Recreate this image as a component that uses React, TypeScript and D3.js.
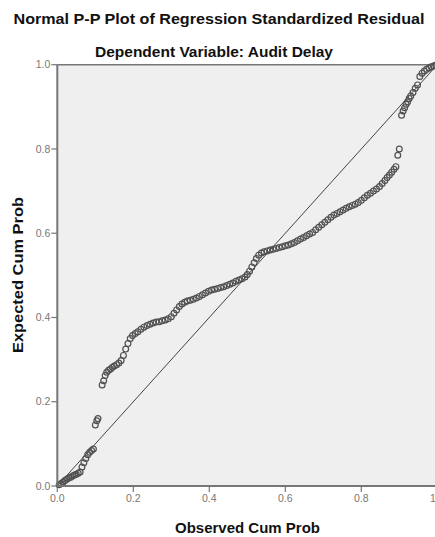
import React from "react";
import * as d3 from "d3";

const observed: number[] = [
  0.005, 0.01, 0.015, 0.02, 0.025, 0.03, 0.035, 0.04, 0.045, 0.05, 0.055, 0.06, 0.065, 0.07, 0.075, 0.08, 0.085, 0.09, 0.095,
  0.1, 0.104, 0.107,
  0.118, 0.122, 0.126, 0.13, 0.135, 0.14, 0.145, 0.15, 0.156, 0.162, 0.168, 0.174, 0.18, 0.186, 0.192, 0.198,
  0.205, 0.212, 0.22, 0.228, 0.236, 0.244, 0.252, 0.26, 0.268, 0.276, 0.284, 0.292, 0.3, 0.307, 0.314, 0.321,
  0.328, 0.335, 0.342, 0.35, 0.358, 0.366, 0.374, 0.382, 0.39, 0.398, 0.406, 0.414, 0.422, 0.43, 0.438, 0.446,
  0.454, 0.462, 0.47, 0.478, 0.486, 0.494, 0.5, 0.506, 0.512, 0.518, 0.524, 0.53, 0.537, 0.544, 0.552, 0.56,
  0.568, 0.576, 0.584, 0.592, 0.6, 0.608, 0.616, 0.624, 0.632, 0.64, 0.648, 0.656, 0.664, 0.672, 0.68, 0.688,
  0.696, 0.704, 0.712, 0.72, 0.728, 0.736, 0.744, 0.752, 0.76, 0.768, 0.776, 0.784, 0.792, 0.8, 0.808, 0.816,
  0.824, 0.832, 0.84, 0.848, 0.855, 0.862, 0.868, 0.874, 0.88, 0.886, 0.891,
  0.896, 0.9,
  0.906, 0.91, 0.914, 0.918, 0.922, 0.926, 0.93, 0.936, 0.942, 0.948,
  0.954, 0.96, 0.966, 0.972, 0.978, 0.984, 0.99, 0.996,
];

const expected: number[] = [
  0.003, 0.006, 0.009, 0.013, 0.016, 0.019, 0.021, 0.024, 0.026, 0.028, 0.03, 0.033, 0.045, 0.055, 0.065, 0.074, 0.08, 0.084, 0.088,
  0.145, 0.155, 0.16,
  0.24, 0.25, 0.262, 0.27, 0.275, 0.278, 0.282, 0.285, 0.288, 0.292, 0.298, 0.31, 0.325, 0.338, 0.35, 0.357,
  0.362, 0.366, 0.372, 0.377, 0.381, 0.384, 0.387, 0.389, 0.39, 0.392, 0.394, 0.397, 0.402, 0.41, 0.418, 0.426,
  0.432, 0.436, 0.439, 0.441, 0.443, 0.446, 0.45, 0.454, 0.458, 0.462, 0.465, 0.467, 0.469, 0.471, 0.473, 0.476,
  0.479, 0.482, 0.486, 0.489, 0.492, 0.496, 0.502, 0.51, 0.52, 0.53, 0.54, 0.548, 0.553, 0.556, 0.558, 0.56,
  0.562, 0.564, 0.566, 0.568, 0.57, 0.572, 0.575, 0.578, 0.582, 0.586, 0.59, 0.594, 0.598, 0.602, 0.608, 0.614,
  0.62, 0.626, 0.632, 0.638, 0.643, 0.647, 0.651, 0.655, 0.659, 0.663, 0.666, 0.669, 0.673, 0.678, 0.684, 0.69,
  0.695, 0.7, 0.705, 0.711, 0.718, 0.725, 0.732, 0.738, 0.745, 0.752, 0.758,
  0.785, 0.8,
  0.88, 0.89, 0.898, 0.906, 0.912, 0.92, 0.926, 0.934, 0.944, 0.952,
  0.972, 0.98, 0.985, 0.989, 0.992, 0.995, 0.997, 0.999,
];

const tickValues: number[] = [0, 0.2, 0.4, 0.6, 0.8, 1.0];
const xTickLabels: string[] = ["0.0", "0.2", "0.4", "0.6", "0.8", "1.0"];
const yTickLabels: string[] = ["0.0", "0.2", "0.4", "0.6", "0.8", "1.0"];

const title = "Normal P-P Plot of Regression Standardized Residual";
const subtitle = "Dependent Variable: Audit Delay";
const xLabel = "Observed Cum Prob";
const yLabel = "Expected Cum Prob";

export default function App() {
  const W = 435;
  const H = 537;
  const x = d3.scaleLinear().domain([0, 1]).range([57.3, 437.3]);
  const y = d3.scaleLinear().domain([0, 1]).range([486, 64.7]);
  const font = "'Liberation Sans', Arial, sans-serif";
  const points = observed.map((o, i) => ({ o, e: expected[i] }));
  const diag = d3.line<number>()
    .x((d) => x(d))
    .y((d) => y(d))([0, 1]);

  return (
    <svg
      width={W}
      height={H}
      style={{ position: "absolute", left: 0, top: 0, background: "#fff" }}
      fontFamily={font}
    >
      <text x={219} y={23.5} fontSize={15} fontWeight="bold" textAnchor="middle" fill="#111"
        textLength={411} lengthAdjust="spacingAndGlyphs">{title}</text>
      <text x={214} y={56.5} fontSize={15} fontWeight="bold" textAnchor="middle" fill="#111"
        textLength={238} lengthAdjust="spacingAndGlyphs">{subtitle}</text>

      <rect x={x(0)} y={y(1)} width={x(1) - x(0)} height={y(0) - y(1)} fill="#efefef" />
      <line x1={x(0)} x2={x(1)} y1={y(1)} y2={y(1)} stroke="#777" strokeWidth={1.6} />

      {tickValues.map((t, i) => (
        <g key={"yt" + i}>
          <line x1={x(0) - 6} x2={x(0)} y1={y(t)} y2={y(t)} stroke="#777" strokeWidth={1.2} />
          <text x={x(0) - 7} y={y(t) + 3.6} fontSize={10.5} textAnchor="end" fill="#777">{yTickLabels[i]}</text>
        </g>
      ))}
      {tickValues.map((t, i) => (
        <g key={"xt" + i}>
          <line x1={x(t)} x2={x(t)} y1={y(0)} y2={y(0) + 6} stroke="#777" strokeWidth={1.2} />
          <text x={x(t)} y={502} fontSize={10.5} textAnchor="middle" fill="#777">{xTickLabels[i]}</text>
        </g>
      ))}

      <path d={diag || ""} stroke="#444" strokeWidth={1} fill="none" />

      {points.map((p, i) => (
        <circle key={i} cx={x(p.o)} cy={y(p.e)} r={2.9} fill="none" stroke="#505050" strokeWidth={1.2} />
      ))}

      <line x1={x(0)} x2={x(0)} y1={y(1)} y2={y(0)} stroke="#777" strokeWidth={2} />
      <line x1={x(0)} x2={x(1)} y1={y(0)} y2={y(0)} stroke="#777" strokeWidth={2} />

      <text x={247.5} y={533} fontSize={15} fontWeight="bold" textAnchor="middle" fill="#111"
        textLength={145} lengthAdjust="spacingAndGlyphs">{xLabel}</text>
      <text transform={`translate(23,275) rotate(-90)`} fontSize={15} fontWeight="bold" textAnchor="middle" fill="#111"
        textLength={156} lengthAdjust="spacingAndGlyphs">{yLabel}</text>
    </svg>
  );
}
